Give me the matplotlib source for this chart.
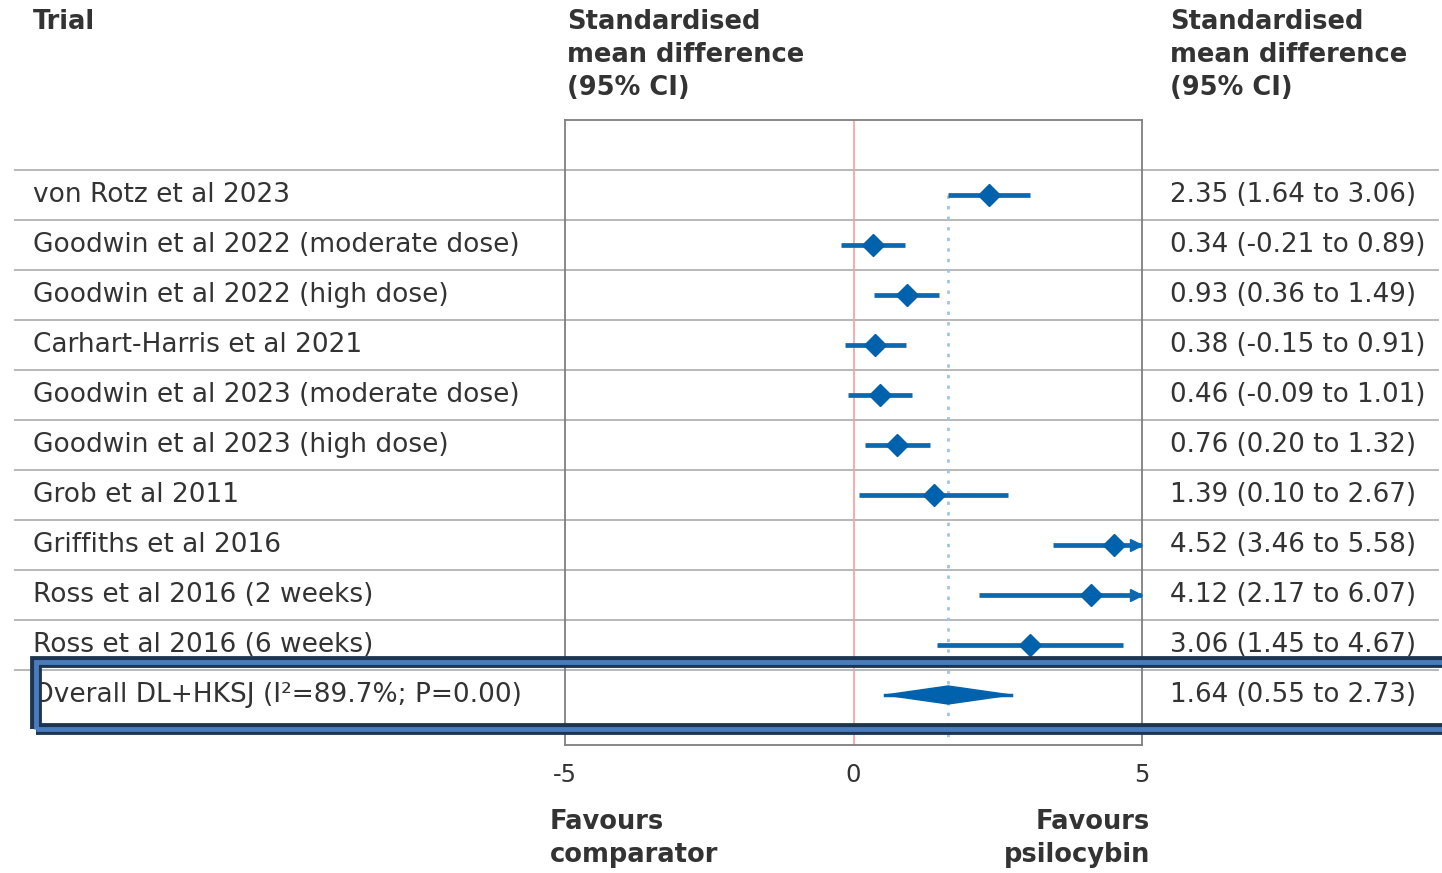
import matplotlib
matplotlib.use('Agg')
import matplotlib.pyplot as plt
from matplotlib.transforms import blended_transform_factory
from matplotlib.patches import Polygon, Rectangle

# ---------------- data ----------------
trials = [
    "von Rotz et al 2023",
    "Goodwin et al 2022 (moderate dose)",
    "Goodwin et al 2022 (high dose)",
    "Carhart-Harris et al 2021",
    "Goodwin et al 2023 (moderate dose)",
    "Goodwin et al 2023 (high dose)",
    "Grob et al 2011",
    "Griffiths et al 2016",
    "Ross et al 2016 (2 weeks)",
    "Ross et al 2016 (6 weeks)",
]
smd = [2.35, 0.34, 0.93, 0.38, 0.46, 0.76, 1.39, 4.52, 4.12, 3.06]
ci_low = [1.64, -0.21, 0.36, -0.15, -0.09, 0.20, 0.10, 3.46, 2.17, 1.45]
ci_high = [3.06, 0.89, 1.49, 0.91, 1.01, 1.32, 2.67, 5.58, 6.07, 4.67]
ci_text = [
    "2.35 (1.64 to 3.06)",
    "0.34 (-0.21 to 0.89)",
    "0.93 (0.36 to 1.49)",
    "0.38 (-0.15 to 0.91)",
    "0.46 (-0.09 to 1.01)",
    "0.76 (0.20 to 1.32)",
    "1.39 (0.10 to 2.67)",
    "4.52 (3.46 to 5.58)",
    "4.12 (2.17 to 6.07)",
    "3.06 (1.45 to 4.67)",
]
overall_label = "Overall DL+HKSJ (I\u00b2=89.7%; P=0.00)"
overall_smd = 1.64
overall_low = 0.55
overall_high = 2.73
overall_text = "1.64 (0.55 to 2.73)"
xticks = [-5, 0, 5]
x_min, x_max = -5, 5

# ---------------- style ----------------
plt.rcParams['font.family'] = ['DejaVu Sans']
TXT = "#333333"
BLUE = "#0a69b1"
MARK = "#0062ad"
FS = 19
FSR = 18.8
FSB = 18.5
FST = 17.5

W, H = 1442, 873
fig = plt.figure(figsize=(W / 100, H / 100), dpi=100)
fig.patch.set_facecolor("white")

def fx(px):
    return px / W

def fy(py):
    return 1 - py / H

ax = fig.add_axes([fx(565), fy(745), (1142 - 565) / W, (745 - 120) / H])
n = len(trials)
ax.set_xlim(x_min, x_max)
ax.set_ylim(n + 1, -1.5)
for s in ax.spines.values():
    s.set_color("#7f7f7f")
    s.set_linewidth(1.3)
ax.set_yticks([])
ax.set_xticks(xticks)
ax.set_xticklabels([str(t) for t in xticks])
ax.tick_params(axis='x', length=0, pad=13, labelsize=FST, labelcolor=TXT)

trans = blended_transform_factory(fig.transFigure, ax.transData)

# row separators
for i in range(n + 1):
    ax.plot([fx(15), fx(1438)], [i - 0.5, i - 0.5], transform=trans,
            color="#b8b8b8", lw=1.4, clip_on=False, zorder=0)

# null line
ax.axvline(0, color="#f2a0a0", lw=1.2, zorder=1)
# overall dotted line
ax.plot([overall_smd, overall_smd], [0, n + 1], color="#9ec4e8", lw=2.0,
        ls=(0, (1.2, 2.6)), zorder=1)

# studies
for i in range(n):
    lo = max(ci_low[i], x_min)
    hi = min(ci_high[i], x_max)
    ax.plot([lo, hi], [i, i], color=BLUE, lw=3.4, solid_capstyle='butt', zorder=3)
    if ci_high[i] > x_max:
        ax.plot([x_max - 0.1], [i], marker='>', ms=9, color=BLUE, zorder=3,
                clip_on=False)
    ax.plot([smd[i]], [i], marker='D', ms=11.5, color=MARK, mec=MARK, zorder=4)

# overall diamond
yo = n
ax.plot([overall_low, overall_high], [yo, yo], color=BLUE, lw=2.5, zorder=3)
dh = 0.18
diamond = Polygon([[overall_low, yo], [overall_smd, yo - dh],
                   [overall_high, yo], [overall_smd, yo + dh]],
                  closed=True, facecolor=MARK, edgecolor=MARK, zorder=4)
ax.add_patch(diamond)

# row labels
for i in range(n):
    fig.text(fx(33), i, trials[i], transform=trans, va='center', ha='left',
             fontsize=FS, color=TXT)
    fig.text(fx(1170), i, ci_text[i], transform=trans, va='center', ha='left',
             fontsize=FSR, color=TXT)
fig.text(fx(33), yo, overall_label, transform=trans, va='center', ha='left',
         fontsize=FS, color=TXT)
fig.text(fx(1170), yo, overall_text, transform=trans, va='center', ha='left',
         fontsize=FSR, color=TXT)

# headers
fig.text(fx(33), fy(22), "Trial", fontsize=FSB, fontweight='bold', color=TXT,
         va='center', ha='left')
for xh in (567, 1170):
    for j, line in enumerate(["Standardised", "mean difference", "(95% CI)"]):
        fig.text(fx(xh), fy(22 + 33 * j), line, fontsize=FSB, fontweight='bold',
                 color=TXT, va='center', ha='left')

# footer
fig.text(fx(550), fy(822), "Favours", fontsize=FSB, fontweight='bold', color=TXT,
         va='center', ha='left')
fig.text(fx(550), fy(855), "comparator", fontsize=FSB, fontweight='bold', color=TXT,
         va='center', ha='left')
fig.text(fx(1150), fy(822), "Favours", fontsize=FSB, fontweight='bold', color=TXT,
         va='center', ha='right')
fig.text(fx(1150), fy(855), "psilocybin", fontsize=FSB, fontweight='bold', color=TXT,
         va='center', ha='right')

# highlight box around overall row
rx0, ry0, rx1, ry1 = 35.5, 662, 1448, 729
outer = Rectangle((fx(rx0), fy(ry1)), fx(rx1) - fx(rx0), fy(ry0) - fy(ry1),
                  transform=fig.transFigure, fill=False, edgecolor="#1d3553",
                  lw=8.5, zorder=10)
inner = Rectangle((fx(rx0), fy(ry1)), fx(rx1) - fx(rx0), fy(ry0) - fy(ry1),
                  transform=fig.transFigure, fill=False, edgecolor="#4a7cbd",
                  lw=3.5, zorder=11)
fig.patches.extend([outer, inner])

fig.savefig("out.png", dpi=100, facecolor="white")
